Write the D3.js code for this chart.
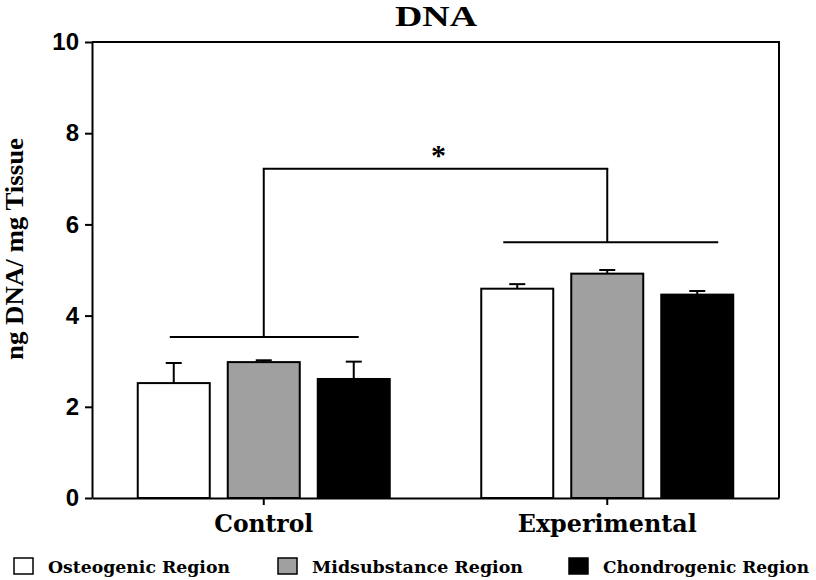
<!DOCTYPE html>
<html><head><meta charset="utf-8">
<script src="https://cdn.jsdelivr.net/npm/d3@7"></script>
<style>body{margin:0;background:#fff}svg{display:block}</style>
</head><body>
<svg id="c" width="816" height="580"></svg>
<script>
const groups = ["Control", "Experimental"];
const series = ["Osteogenic Region", "Midsubstance Region", "Chondrogenic Region"];
const controlMeans = [2.52, 2.98, 2.61];
const controlErrors = [0.44, 0.04, 0.38];
const experimentalMeans = [4.59, 4.92, 4.46];
const experimentalErrors = [0.10, 0.08, 0.08];
const yTicks = [0, 2, 4, 6, 8, 10];
const groupBracketLevels = [3.53, 5.61];
const topBracketLevel = 7.22;
const colors = ["#ffffff", "#a0a0a0", "#000000"];

const means = [controlMeans, experimentalMeans];
const errs = [controlErrors, experimentalErrors];

const svg = d3.select("#c");
const L = 92, R = 779, T = 42, B = 498;
const y = d3.scaleLinear().domain([0, 10]).range([B, T]);
const x0 = d3.scaleBand().domain(groups).range([L, R]).padding(0);
const x1 = d3.scaleBand().domain(series).range([0, 270]).paddingInner(0.2).paddingOuter(0.1);
const gx = g => x0(g) + x0.bandwidth() / 2 - 135;

// bars
groups.forEach((g, gi) => {
  series.forEach((s, si) => {
    const bx = gx(g) + x1(s), bw = x1.bandwidth();
    const v = means[gi][si], e = errs[gi][si];
    const cx = bx + bw / 2;
    svg.append("line").attr("x1", cx).attr("x2", cx).attr("y1", y(v)).attr("y2", y(v + e))
      .attr("stroke", "#000").attr("stroke-width", 2);
    svg.append("line").attr("x1", cx - 8).attr("x2", cx + 8).attr("y1", y(v + e)).attr("y2", y(v + e))
      .attr("stroke", "#000").attr("stroke-width", 2);
    svg.append("rect").attr("x", bx).attr("y", y(v)).attr("width", bw).attr("height", y(0) - y(v))
      .attr("fill", colors[si]).attr("stroke", "#000").attr("stroke-width", 2);
  });
});

// frame
svg.append("path").attr("d", `M${L},${T}H${R}V${B}`).attr("fill", "none").attr("stroke", "#000").attr("stroke-width", 2);

// y axis
const ya = svg.append("g").attr("transform", `translate(${L},0)`)
  .call(d3.axisLeft(y).tickValues(yTicks).tickSize(7).tickPadding(6).tickSizeOuter(0));
ya.select(".domain").attr("stroke-width", 2);
ya.selectAll(".tick line").attr("stroke-width", 2);
ya.selectAll("text").attr("font-family", "Liberation Sans, Arial, sans-serif").attr("font-weight", "bold").attr("font-size", 24).attr("fill", "#000");

// x axis
const catWidths = {"Control": 99, "Experimental": 179};
const xa = svg.append("g").attr("transform", `translate(0,${B})`)
  .call(d3.axisBottom(x0).tickSize(7).tickPadding(10).tickSizeOuter(0));
xa.select(".domain").attr("stroke-width", 2);
xa.selectAll(".tick line").attr("stroke-width", 2);
xa.selectAll("text").attr("font-family", "DejaVu Serif, serif").attr("font-weight", "bold").attr("font-size", 24).attr("fill", "#000")
  .attr("textLength", d => catWidths[d]).attr("lengthAdjust", "spacingAndGlyphs");

// significance brackets
const spans = [[-94, 95], [-104, 111]];
groups.forEach((g, gi) => {
  const c = x0(g) + x0.bandwidth() / 2;
  svg.append("line").attr("x1", c + spans[gi][0]).attr("x2", c + spans[gi][1])
    .attr("y1", y(groupBracketLevels[gi])).attr("y2", y(groupBracketLevels[gi]))
    .attr("stroke", "#000").attr("stroke-width", 2);
  svg.append("line").attr("x1", c).attr("x2", c)
    .attr("y1", y(groupBracketLevels[gi])).attr("y2", y(topBracketLevel))
    .attr("stroke", "#000").attr("stroke-width", 2);
});
const c0 = x0(groups[0]) + x0.bandwidth() / 2, c1 = x0(groups[1]) + x0.bandwidth() / 2;
svg.append("line").attr("x1", c0 - 1).attr("x2", c1 + 1).attr("y1", y(topBracketLevel)).attr("y2", y(topBracketLevel))
  .attr("stroke", "#000").attr("stroke-width", 2);
svg.append("text").attr("x", (c0 + c1) / 2 + 3).attr("y", y(topBracketLevel) - 4)
  .attr("text-anchor", "middle").attr("font-family", "Liberation Serif, serif").attr("font-weight", "bold")
  .attr("font-size", 30).text("*");

// title
svg.append("text").attr("x", 436).attr("y", 26).attr("text-anchor", "middle")
  .attr("font-family", "Liberation Serif, Times New Roman, serif").attr("font-weight", "bold")
  .attr("font-size", 30).attr("textLength", 82).attr("lengthAdjust", "spacingAndGlyphs").text("DNA");

// y label
svg.append("text").attr("transform", "translate(23,249) rotate(-90)").attr("text-anchor", "middle")
  .attr("font-family", "Liberation Serif, Times New Roman, serif").attr("font-weight", "bold")
  .attr("font-size", 26).attr("textLength", 222).attr("lengthAdjust", "spacingAndGlyphs").text("ng DNA/ mg Tissue");

// legend
const legX = [13, 277, 568];
const legW = [182, 211, 206];
series.forEach((s, i) => {
  svg.append("rect").attr("x", legX[i] + 1).attr("y", 558).attr("width", 19).attr("height", 16)
    .attr("fill", colors[i]).attr("stroke", "#000").attr("stroke-width", 1.5);
  svg.append("text").attr("x", legX[i] + 35).attr("y", 573)
    .attr("font-family", "DejaVu Serif, serif").attr("font-weight", "bold").attr("font-size", 17)
    .attr("textLength", legW[i]).attr("lengthAdjust", "spacingAndGlyphs").text(s);
});
</script>
</body></html>
